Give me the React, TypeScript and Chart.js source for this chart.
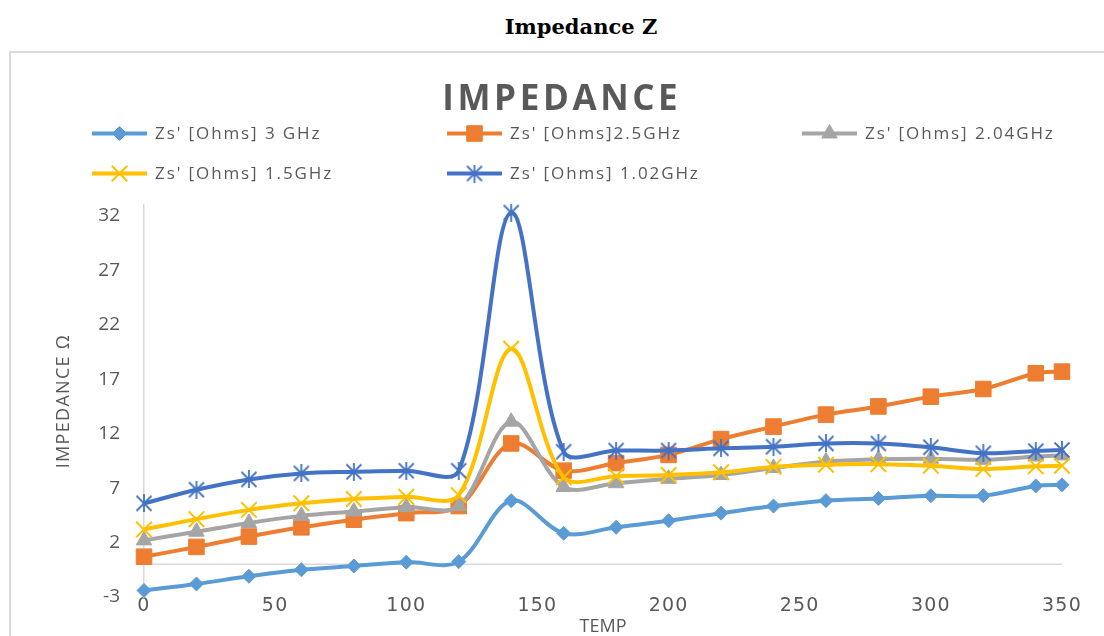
import React, { useEffect, useRef } from 'react';
import { Chart, registerables, LinearScale } from 'chart.js';
import { drawPoint } from 'chart.js/helpers';

// ---------------- data ----------------
const pageTitle = 'Impedance Z';
const chartTitle = 'IMPEDANCE';
const xAxisTitle = 'TEMP';
const yAxisTitle = 'IMPEDANCE Ω';

const temps = [0, 20, 40, 60, 80, 100, 120, 140, 160, 180, 200, 220, 240, 260, 280, 300, 320, 340, 350];
const xTicks = [0, 50, 100, 150, 200, 250, 300, 350];
const yTicks = [-3, 2, 7, 12, 17, 22, 27, 32];

const seriesLabels = [
  "Zs' [Ohms] 3 GHz",
  "Zs' [Ohms]2.5GHz",
  "Zs' [Ohms] 2.04GHz",
  "Zs' [Ohms] 1.5GHz",
  "Zs' [Ohms] 1.02GHz",
];
const z3GHz = [-2.4, -1.8, -1.1, -0.5, -0.15, 0.2, 0.25, 5.85, 2.85, 3.4, 4.0, 4.7, 5.35, 5.85, 6.05, 6.3, 6.3, 7.2, 7.3];
const z25GHz = [0.7, 1.6, 2.55, 3.4, 4.1, 4.7, 5.35, 11.1, 8.6, 9.3, 10.05, 11.5, 12.65, 13.75, 14.5, 15.4, 16.1, 17.55, 17.7];
const z204GHz = [2.2, 3.0, 3.8, 4.45, 4.85, 5.25, 5.35, 13.1, 7.1, 7.45, 7.85, 8.2, 8.85, 9.45, 9.65, 9.7, 9.6, 9.9, 10.0];
const z15GHz = [3.2, 4.15, 5.0, 5.6, 6.0, 6.2, 6.35, 19.8, 8.0, 8.1, 8.2, 8.45, 8.95, 9.15, 9.2, 9.05, 8.75, 9.0, 9.05];
const z102GHz = [5.6, 6.85, 7.8, 8.35, 8.5, 8.6, 8.6, 32.3, 10.35, 10.45, 10.45, 10.65, 10.8, 11.1, 11.1, 10.75, 10.2, 10.4, 10.5];
const seriesValues = [z3GHz, z25GHz, z204GHz, z15GHz, z102GHz];

// ---------------- styles ----------------
const seriesColors = ['#5B9BD5', '#ED7D31', '#A5A5A5', '#FFC000', '#4472C4'];
const markerKinds = ['rectRot', 'rect', 'triangle', 'crossRot', 'asterisk'];
const markerRadii = [7, 11, 9, 11, 9];
const markerBorders = [1, 1, 1, 2, 1];
const TEXT = '#595959';
const LINE_GRAY = '#D9D9D9';
const SANS = '"Open Sans", "DejaVu Sans", sans-serif';

class SpacedLinearScale extends LinearScale {
  static id = 'spacedLinear';
  static defaults = LinearScale.defaults;
  drawLabels(chartArea: any) {
    const ctx = this.ctx as any;
    const prev = ctx.letterSpacing;
    ctx.letterSpacing = (this.options as any).labelSpacing || '0px';
    super.drawLabels(chartArea);
    ctx.letterSpacing = prev;
  }
  drawTitle() {
    const ctx = this.ctx as any;
    const prev = ctx.letterSpacing;
    ctx.letterSpacing = (this.options as any).titleSpacing || '0px';
    super.drawTitle();
    ctx.letterSpacing = prev;
  }
}

Chart.register(...registerables, SpacedLinearScale);

function makeAsterisk(color: string, size: number) {
  const c = document.createElement('canvas');
  c.width = size;
  c.height = size;
  const g = c.getContext('2d')!;
  g.strokeStyle = color;
  g.lineWidth = 1.8;
  const m = 1.5;
  g.beginPath();
  g.moveTo(m, m);
  g.lineTo(size - m, size - m);
  g.moveTo(size - m, m);
  g.lineTo(m, size - m);
  g.moveTo(size / 2, 0);
  g.lineTo(size / 2, size);
  g.stroke();
  return c;
}

const legendCols = [92, 447, 802];
const legendRows = [133.5, 173.5];

const decorPlugin = {
  id: 'decor',
  beforeDatasetsDraw(chart: any) {
    const { ctx, chartArea, scales } = chart;
    const y0 = scales.y.getPixelForValue(0);
    ctx.save();
    ctx.strokeStyle = LINE_GRAY;
    ctx.lineWidth = 1.5;
    ctx.beginPath();
    ctx.moveTo(chartArea.left, y0);
    ctx.lineTo(chartArea.right, y0);
    ctx.stroke();
    ctx.restore();
  },
  afterDraw(chart: any) {
    const ctx = chart.ctx as any;
    ctx.save();
    ctx.fillStyle = TEXT;
    ctx.textAlign = 'left';
    ctx.textBaseline = 'middle';
    ctx.font = `bold 35px ${SANS}`;
    ctx.letterSpacing = '3.6px';
    const w = ctx.measureText(chartTitle).width - 3.6;
    ctx.fillText(chartTitle, 560 - w / 2, 100);

    chart.data.datasets.forEach((ds: any, i: number) => {
      const x0 = legendCols[i % 3];
      const y = legendRows[Math.floor(i / 3)];
      ctx.strokeStyle = ds.borderColor;
      ctx.lineWidth = 4;
      ctx.beginPath();
      ctx.moveTo(x0, y);
      ctx.lineTo(x0 + 55, y);
      ctx.stroke();
      ctx.fillStyle = ds.pointBackgroundColor;
      ctx.strokeStyle = ds.pointBorderColor;
      ctx.lineWidth = ds.pointBorderWidth;
      drawPoint(ctx, {
        pointStyle: ds.pointStyle,
        radius: ds.pointRadius,
        rotation: 0,
        borderWidth: ds.pointBorderWidth,
      } as any, x0 + 27.5, y);
      ctx.fillStyle = TEXT;
      ctx.font = `17px ${SANS}`;
      ctx.letterSpacing = '1.9px';
      ctx.textAlign = 'left';
      ctx.fillText(ds.label, x0 + 63, y + 1);
    });
    ctx.restore();
  },
};

export default function App() {
  const canvasRef = useRef<HTMLCanvasElement | null>(null);

  useEffect(() => {
    document.body.style.margin = '0';
    const canvas = canvasRef.current!;
    const datasets = seriesLabels.map((label, i) => {
      const style: any = markerKinds[i] === 'asterisk' ? makeAsterisk(seriesColors[i], 18) : markerKinds[i];
      return {
        label,
        data: temps.map((t, k) => ({ x: t, y: seriesValues[i][k] })),
        borderColor: seriesColors[i],
        backgroundColor: seriesColors[i],
        pointBackgroundColor: seriesColors[i],
        pointBorderColor: seriesColors[i],
        pointBorderWidth: markerBorders[i],
        pointStyle: style,
        pointRadius: markerRadii[i],
        pointHoverRadius: markerRadii[i],
        borderWidth: 4,
        tension: 0.33,
        fill: false,
        clip: false as any,
        order: seriesLabels.length - i,
      };
    });

    const chart = new Chart(canvas, {
      type: 'line',
      data: { datasets },
      plugins: [decorPlugin],
      options: {
        animation: false,
        responsive: false,
        devicePixelRatio: 1,
        layout: { padding: { left: 0, right: 42, top: 205, bottom: 0 } },
        plugins: {
          legend: { display: false },
          title: { display: false },
          tooltip: { enabled: false },
        },
        scales: {
          x: {
            type: 'spacedLinear' as any,
            min: 0,
            max: 350,
            labelSpacing: '1.2px',
            afterBuildTicks: (s: any) => {
              s.ticks = xTicks.map((v) => ({ value: v }));
            },
            afterFit: (s: any) => {
              s.height = 39;
            },
            grid: { display: false, drawTicks: false },
            border: { display: false },
            ticks: {
              color: TEXT,
              padding: 0,
              maxRotation: 0,
              autoSkip: false,
              font: { family: '"DejaVu Sans", sans-serif', size: 19, lineHeight: 1 },
            },
            title: {
              display: true,
              text: xAxisTitle,
              color: TEXT,
              font: { family: SANS, size: 18, lineHeight: 1 },
              padding: { top: 0, bottom: 0 },
            },
          } as any,
          y: {
            type: 'spacedLinear' as any,
            min: -3,
            max: 33,
            titleSpacing: '1.3px',
            afterBuildTicks: (s: any) => {
              s.ticks = yTicks.map((v) => ({ value: v }));
            },
            afterFit: (s: any) => {
              s.width = 144;
            },
            grid: { display: false, drawTicks: false },
            border: { display: true, color: LINE_GRAY, width: 1.5 },
            ticks: {
              color: TEXT,
              padding: 24,
              autoSkip: false,
              font: { family: SANS, size: 19 },
            },
            title: {
              display: true,
              text: yAxisTitle,
              color: TEXT,
              font: { family: SANS, size: 18, lineHeight: 1 },
              padding: { top: 55, bottom: 0 },
            },
          } as any,
        },
      },
    });
    return () => chart.destroy();
  }, []);

  return (
    <div style={{ position: 'relative', width: 1104, height: 636, overflow: 'hidden', background: '#fff' }}>
      <div
        style={{
          position: 'absolute',
          left: 0,
          top: 12,
          width: 1162,
          textAlign: 'center',
          fontFamily: '"DejaVu Serif", serif',
          fontWeight: 'bold',
          fontSize: 21,
          lineHeight: '30px',
          color: '#000',
          whiteSpace: 'nowrap',
        }}
      >
        {pageTitle}
      </div>
      <div
        style={{
          position: 'absolute',
          left: 9,
          top: 51,
          width: 1200,
          height: 700,
          border: `2px solid ${LINE_GRAY}`,
        }}
      />
      <canvas ref={canvasRef} width={1104} height={636} style={{ position: 'absolute', left: 0, top: 0 }} />
    </div>
  );
}
